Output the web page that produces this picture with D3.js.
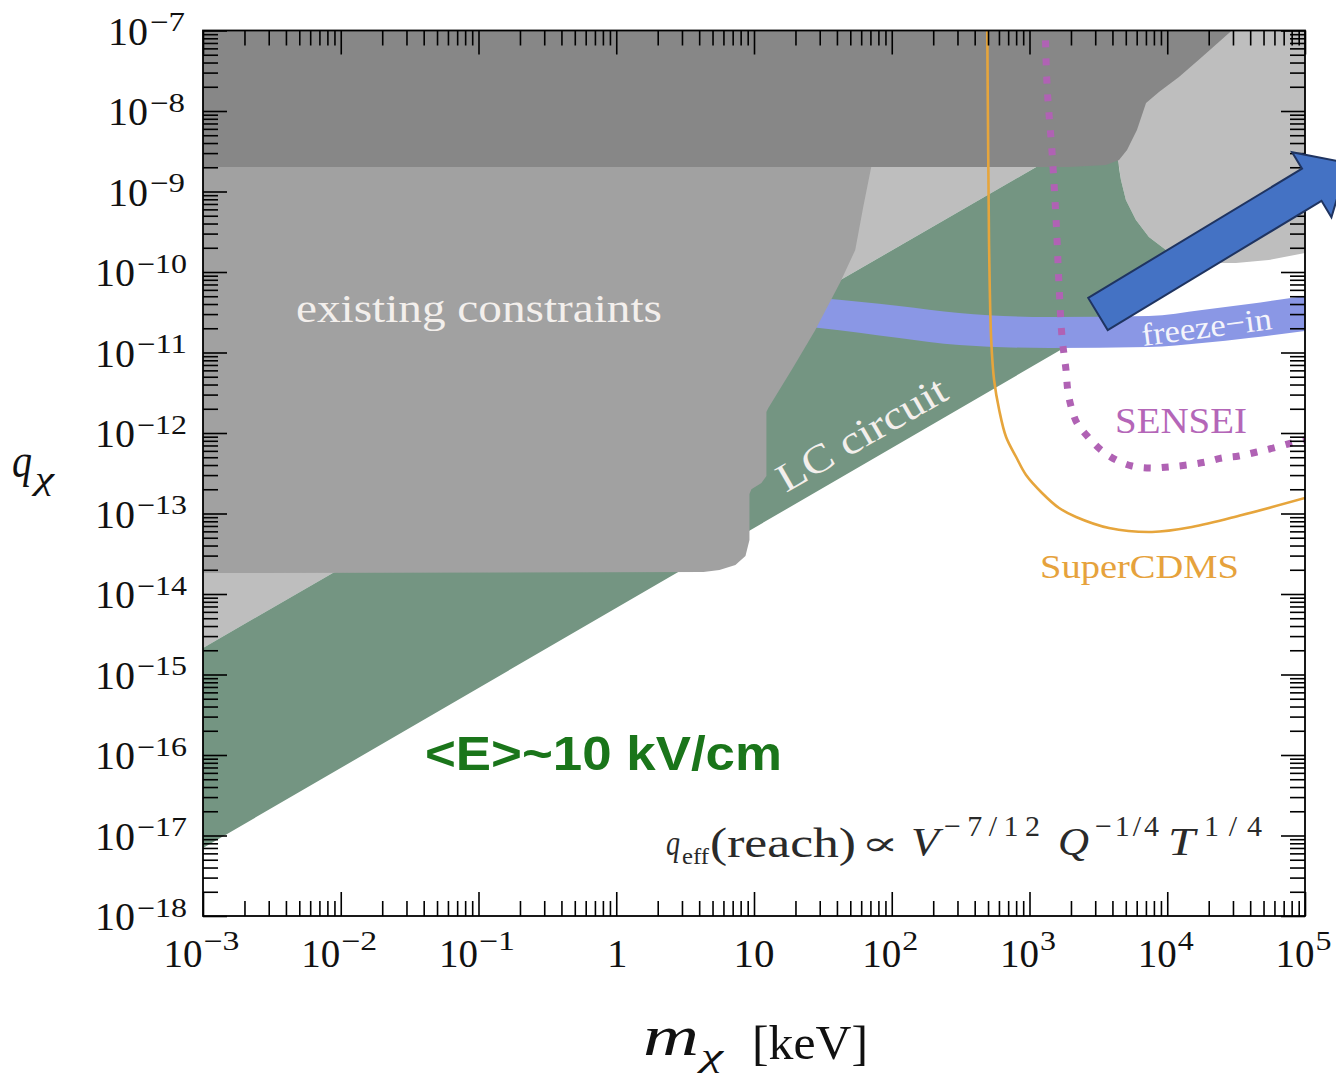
<!DOCTYPE html>
<html><head><meta charset="utf-8">
<script src="https://cdn.jsdelivr.net/npm/d3@7"></script>
<style>body{margin:0;background:#fff;overflow:hidden}svg{display:block}</style></head>
<body><svg id="c" width="1336" height="1081"></svg>
<script>
// ---- data (log10 m [keV], log10 q) ----
const darkBand = [[-3,-6.9],[4.469,-6.9],[4.469,-7],[4.252,-7.329],[4.085,-7.578],[3.940,-7.764],[3.846,-7.901],[3.780,-8.236],[3.708,-8.484],[3.650,-8.609],[3.555,-8.671],[3.287,-8.696],[-3,-8.696]];
const lightGray = [[-3,-7],[-3,-14.67],[3.048,-8.696],[3.650,-8.696],[3.664,-8.857],[3.700,-9.106],[3.773,-9.354],[3.867,-9.565],[3.991,-9.727],[4.136,-9.826],[4.302,-9.888],[4.498,-9.888],[4.737,-9.851],[5,-9.764],[5,-7]];
const lcCircuit = [[-3,-17.155],[-3,-14.67],[3.146,-8.6],[3.640,-8.6],[3.664,-8.857],[3.700,-9.106],[3.773,-9.354],[3.867,-9.565],[3.991,-9.727],[4.136,-9.826],[4.30,-9.90]];
const existing = [[-3,-8.6],[1.86,-8.6],[1.851,-8.696],[1.793,-9.193],[1.735,-9.727],[1.627,-10.124],[1.445,-10.720],[1.286,-11.180],[1.104,-11.689],[1.090,-11.739],[1.090,-12.534],[1.054,-12.62],[0.981,-12.70],[0.967,-12.758],[0.967,-13.33],[0.938,-13.528],[0.865,-13.640],[0.749,-13.702],[0.633,-13.727],[-3,-13.739]];
const freezeX = [1.257,1.474,2.054,2.489,3.142,3.867,4.252,4.592,5.0];
const freezeTop = [-10.298,-10.323,-10.422,-10.509,-10.559,-10.547,-10.472,-10.398,-10.298];
const freezeBottom = [-10.658,-10.696,-10.820,-10.907,-10.944,-10.932,-10.882,-10.820,-10.733];
const superCDMS = [[2.693,-6.9],[2.700,-8.484],[2.707,-9.727],[2.722,-10.845],[2.743,-11.342],[2.780,-11.714],[2.830,-12.050],[2.903,-12.298],[2.975,-12.522],[3.091,-12.745],[3.215,-12.932],[3.338,-13.043],[3.577,-13.180],[3.889,-13.230],[4.179,-13.168],[4.542,-13.019],[5.0,-12.807]];
const sensei = [[3.113,-6.9],[3.128,-7.702],[3.164,-8.522],[3.193,-9.354],[3.215,-10.186],[3.236,-10.807],[3.265,-11.217],[3.28,-11.50],[3.31,-11.72],[3.345,-11.876],[3.432,-12.062],[3.519,-12.211],[3.628,-12.335],[3.744,-12.410],[3.882,-12.435],[4.012,-12.422],[4.143,-12.398],[4.281,-12.360],[4.397,-12.311],[4.520,-12.286],[4.651,-12.236],[4.774,-12.186],[4.904,-12.124],[5.0,-12.087]];
const arrowFromTo = [[3.497,-10.522],[5.31,-8.646]];
const xTickValues = [1e-3,1e-2,1e-1,1,10,1e2,1e3,1e4,1e5];
const xTickLabels = [["10","−3"],["10","−2"],["10","−1"],["1",""],["10",""],["10","2"],["10","3"],["10","4"],["10","5"]];
const yTickExps = [-7,-8,-9,-10,-11,-12,-13,-14,-15,-16,-17,-18];
const yTickLabels = ["−7","−8","−9","−10","−11","−12","−13","−14","−15","−16","−17","−18"];

// ---- setup ----
const svg = d3.select("#c");
const X0=203, X1=1305, Y0=916, Y1=30.5;
const x = d3.scaleLog().domain([1e-3,1e5]).range([X0,X1]);
const y = d3.scaleLog().domain([1e-18,1e-7]).range([Y0,Y1]);
const px = d => x(Math.pow(10,d[0])), py = d => y(Math.pow(10,d[1]));
const serif = "'Liberation Serif','DejaVu Serif',serif";
const line = d3.line().x(px).y(py);
svg.append("rect").attr("width",1336).attr("height",1081).attr("fill","#fff");
svg.append("clipPath").attr("id","clip").append("rect").attr("x",X0).attr("y",Y1).attr("width",X1-X0).attr("height",Y0-Y1);
const g = svg.append("g").attr("clip-path","url(#clip)");

g.append("path").attr("d",line(lightGray)+"Z").attr("fill","#bebebe");
g.append("path").attr("d",line(lcCircuit)+"Z").attr("fill","#749582");
const freezeArea = d3.area().curve(d3.curveMonotoneX)
  .x((d,i)=>x(Math.pow(10,freezeX[i])))
  .y0((d,i)=>y(Math.pow(10,freezeBottom[i])))
  .y1((d,i)=>y(Math.pow(10,freezeTop[i])));
g.append("path").attr("d",freezeArea(freezeX)).attr("fill","#8a97e5");
g.append("path").attr("d",line(existing)+"Z").attr("fill","#a1a1a1");
g.append("path").attr("d",line(darkBand)+"Z").attr("fill","#878787");

const smooth = d3.line().x(px).y(py).curve(d3.curveCatmullRom.alpha(0.5));
g.append("path").attr("d",smooth(superCDMS)).attr("fill","none").attr("stroke","#e6a53c").attr("stroke-width",2.6);
g.append("path").attr("d",smooth(sensei)).attr("fill","none").attr("stroke","#b062b4").attr("stroke-width",7).attr("stroke-dasharray","7 11");

// ---- annotations ----
function t(str, xx, yy, o){
  const e = svg.append("text").attr("x",xx).attr("y",yy).text(str)
    .attr("font-family",o.family||serif).attr("font-size",o.size).attr("fill",o.fill||"#111");
  if(o.italic) e.attr("font-style","italic");
  if(o.bold) e.attr("font-weight","bold");
  if(o.anchor) e.attr("text-anchor",o.anchor);
  if(o.len) e.attr("textLength",o.len).attr("lengthAdjust",o.adj||"spacingAndGlyphs");
  if(o.rot!==undefined) e.attr("transform",`rotate(${o.rot},${xx},${yy})`);
  return e;
}
t("existing constraints",296,322,{size:40,fill:"#f3efec",len:366});
t("LC circuit",786,493,{size:40,fill:"#f3efec",len:190,rot:-30});
t("freeze−in",1143,346,{size:32,fill:"#f4f4fb",len:131,rot:-7.5});
t("SENSEI",1115,433,{size:35,fill:"#b466b8",len:132});
t("SuperCDMS",1040,578,{size:34,fill:"#e6a23c",len:199});
t("<E>~10 kV/cm",425,770,{size:48,bold:true,family:"'Liberation Sans',Arial,sans-serif",fill:"#1a751a",len:357});
// formula
const fc="#2a2a2a";
t("q",666,855,{size:36,italic:true,fill:fc,len:14});
t("eff",682,864,{size:23,fill:fc,len:27});
t("(reach)",710,857,{size:42,fill:fc,len:146});
t("∝",861,855,{size:34,fill:fc,len:38});
t("V",911,855,{size:40,italic:true,fill:fc,len:28});
t("−7/12",944,836,{size:30,fill:fc,len:96,adj:"spacing"});
t("Q",1058,855,{size:40,italic:true,fill:fc,len:31});
t("−1/4",1095,836,{size:30,fill:fc,len:64,adj:"spacing"});
t("T",1168,855,{size:40,italic:true,fill:fc,len:27});
t("1/4",1204,836,{size:30,fill:fc,len:58,adj:"spacing"});
// axis titles
t("q",12,477,{size:48,italic:true,len:20});
t("χ",35,489,{size:32,italic:true,len:19});
t("m",643,1055,{size:56,italic:true,len:56});
t("χ",701,1066,{size:32,italic:true,len:22});
t("[keV]",752,1059,{size:48,len:116});

// ---- arrow ----
const arrowPath = (function(){
  const a=[px(arrowFromTo[0]),py(arrowFromTo[0])], b=[px(arrowFromTo[1]),py(arrowFromTo[1])];
  const dx=b[0]-a[0], dy=b[1]-a[1], L=Math.hypot(dx,dy), ux=dx/L, uy=dy/L, nx=-uy, ny=ux;
  const hw=18.8, hh=38, hl=42;
  const bx=b[0]-ux*hl, by=b[1]-uy*hl;
  const pts=[[a[0]+nx*hw,a[1]+ny*hw],[bx+nx*hw,by+ny*hw],[bx+nx*hh,by+ny*hh],b,[bx-nx*hh,by-ny*hh],[bx-nx*hw,by-ny*hw],[a[0]-nx*hw,a[1]-ny*hw]];
  return "M"+pts.map(p=>p.join(",")).join("L")+"Z";
})();

// ---- axes ----
function minors(lo,hi){const r=[];for(let e=lo;e<hi;e++)for(let k=2;k<=9;k++)r.push(k*Math.pow(10,e));return r;}
const xMinor=minors(-3,5), yMinor=minors(-18,-7);
const yMajor=yTickExps.map(e=>Math.pow(10,e));
const axG = svg.append("g");
function ax(axis, tr){const gg=axG.append("g").attr("transform",tr).call(axis);gg.select(".domain").remove();gg.selectAll("text").remove();gg.selectAll("line").attr("stroke","#000").attr("stroke-width",1.6);}
ax(d3.axisBottom(x).tickValues(xMinor).tickSize(-15),`translate(0,${Y0})`);
ax(d3.axisBottom(x).tickValues(xTickValues).tickSize(-24),`translate(0,${Y0})`);
ax(d3.axisTop(x).tickValues(xMinor).tickSize(-15),`translate(0,${Y1})`);
ax(d3.axisTop(x).tickValues(xTickValues).tickSize(-24),`translate(0,${Y1})`);
ax(d3.axisLeft(y).tickValues(yMinor).tickSize(-15),`translate(${X0},0)`);
ax(d3.axisLeft(y).tickValues(yMajor).tickSize(-24),`translate(${X0},0)`);
ax(d3.axisRight(y).tickValues(yMinor).tickSize(-15),`translate(${X1},0)`);
ax(d3.axisRight(y).tickValues(yMajor).tickSize(-24),`translate(${X1},0)`);
svg.append("rect").attr("x",X0).attr("y",Y1).attr("width",X1-X0).attr("height",Y0-Y1).attr("fill","none").attr("stroke","#000").attr("stroke-width",1.8);

// arrow on top of everything
svg.append("path").attr("d",arrowPath).attr("fill","#4472c4").attr("stroke","#1f3461").attr("stroke-width",2).attr("stroke-linejoin","miter");

// tick labels
xTickValues.forEach((v,i)=>{
  const cx=x(v), [base,sup]=xTickLabels[i];
  if(!sup){ t(base,cx+(base==="1"?1:0),967,{size:41,anchor:"middle"}); return; }
  const sw = sup.length>1?37:17, tot=40+sw, x0=cx-tot/2-1;
  t(base,x0,967,{size:41,len:39});
  t(sup,x0+40,950,{size:27,len:sw-1});
});
yTickExps.forEach((e,i)=>{
  const ty=y(Math.pow(10,e)), sup=yTickLabels[i];
  const sw = sup.length>2?50:35, right = sup.length>2?187:185;
  t(sup,right,ty+0.5,{size:27,anchor:"end",len:sw});
  t("10",right-sw-2,ty+14,{size:41,anchor:"end",len:40});
});
</script></body></html>
